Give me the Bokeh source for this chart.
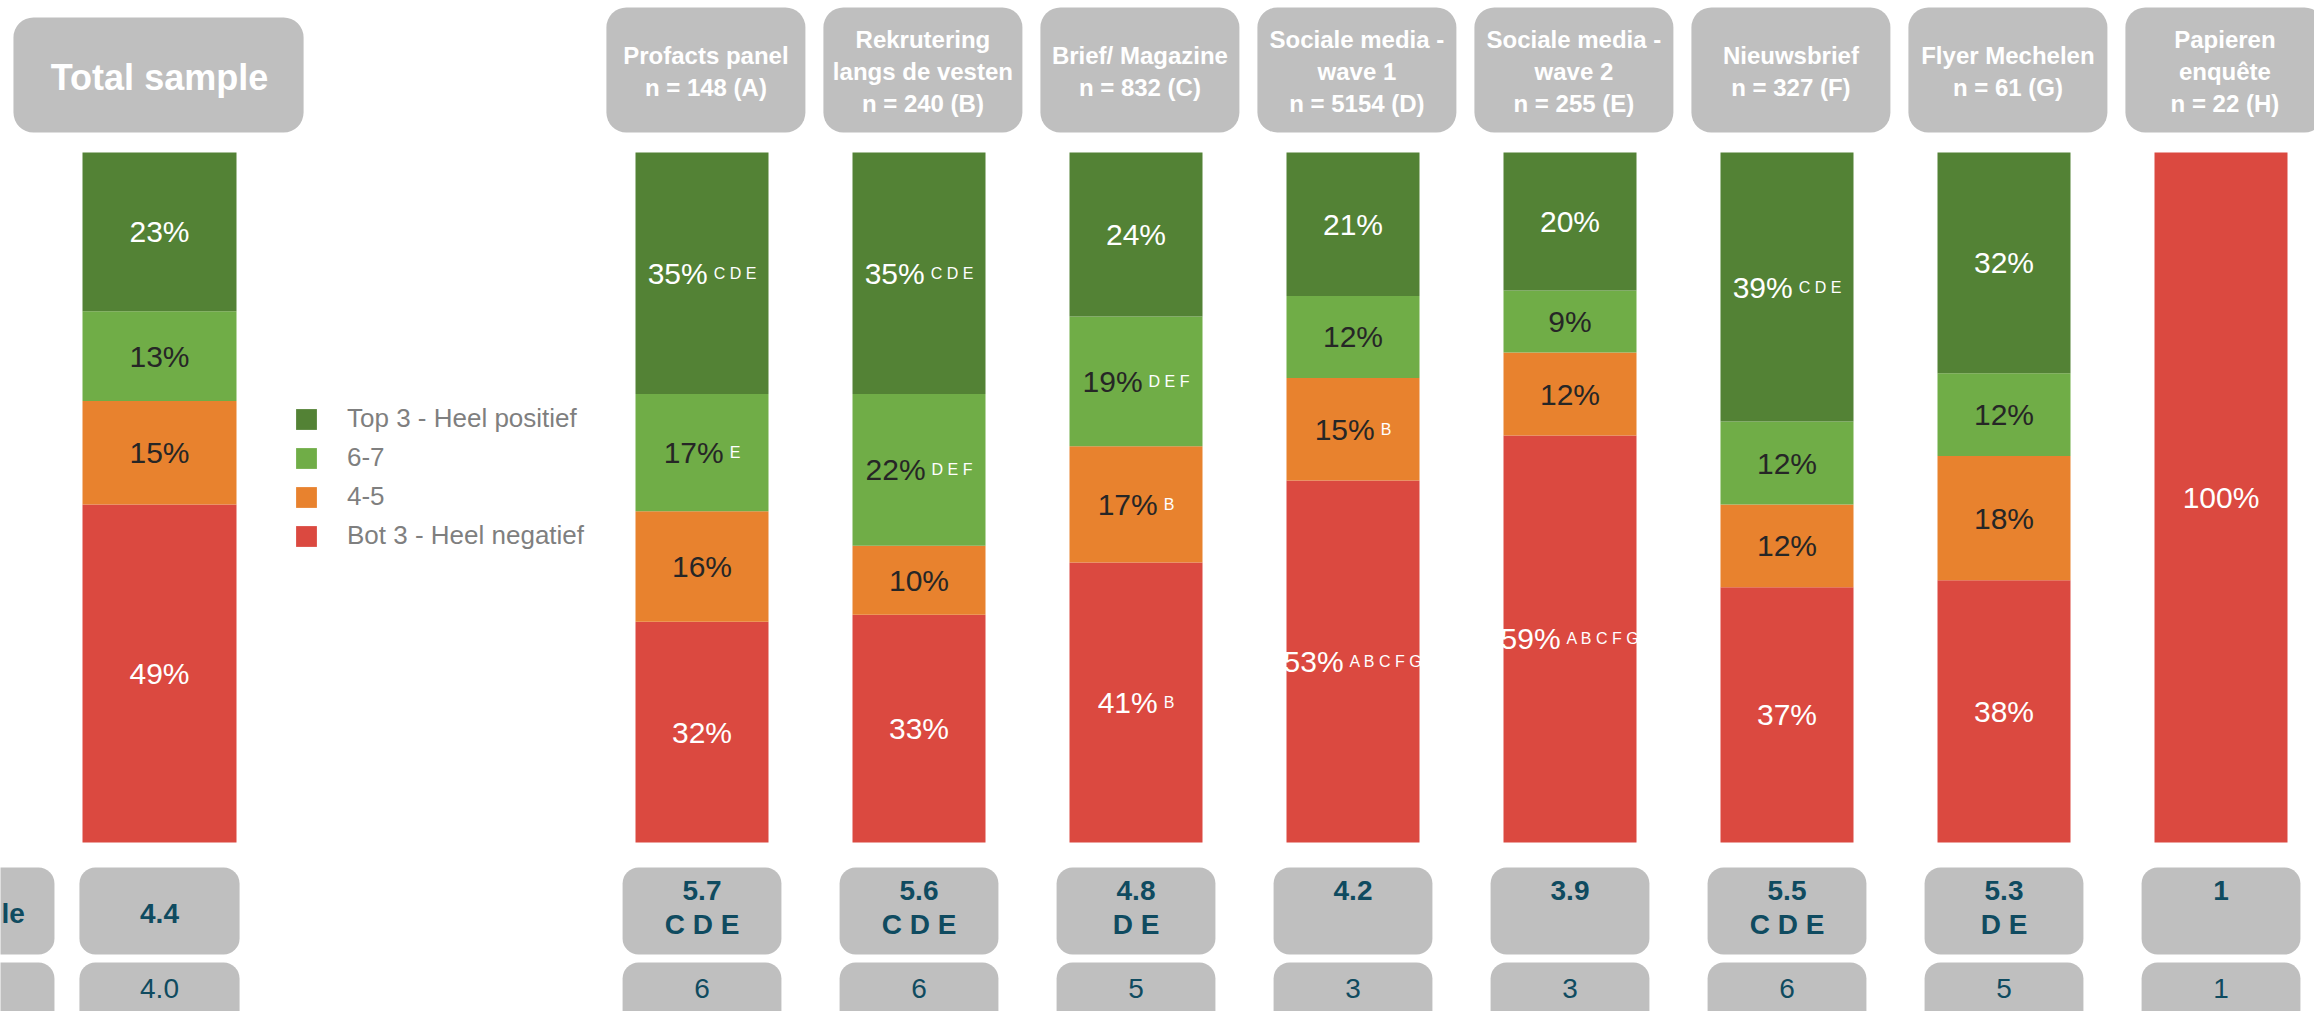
from bokeh.plotting import figure
from bokeh.models import Range1d, BoxAnnotation, ColumnDataSource, Legend, LegendItem
from bokeh.core.properties import value
from bokeh.embed import file_html
from bokeh.resources import INLINE

# ---------------- data ----------------
groups = ["Total sample",
          "Profacts panel\nn = 148 (A)",
          "Rekrutering\nlangs de vesten\nn = 240 (B)",
          "Brief/ Magazine\nn = 832 (C)",
          "Sociale media -\nwave 1\nn = 5154 (D)",
          "Sociale media -\nwave 2\nn = 255 (E)",
          "Nieuwsbrief\nn = 327 (F)",
          "Flyer Mechelen\nn = 61 (G)",
          "Papieren\nenquête\nn = 22 (H)"]
series = ["Top 3 - Heel positief", "6-7", "4-5", "Bot 3 - Heel negatief"]
top3 = [23, 35, 35, 24, 21, 20, 39, 32, 0]
mid67 = [13, 17, 22, 19, 12, 9, 12, 12, 0]
mid45 = [15, 16, 10, 17, 15, 12, 12, 18, 0]
bot3 = [49, 32, 33, 41, 53, 59, 37, 38, 100]
sig_top3 = ["", "CDE", "CDE", "", "", "", "CDE", "", ""]
sig_67 = ["", "E", "DEF", "DEF", "", "", "", "", ""]
sig_45 = ["", "", "", "B", "B", "", "", "", ""]
sig_bot3 = ["", "", "", "B", "ABCFG", "ABCFG", "", "", ""]
means = ["4.4", "5.7", "5.6", "4.8", "4.2", "3.9", "5.5", "5.3", "1"]
mean_sig = ["", "CDE", "CDE", "DE", "", "", "CDE", "DE", ""]
medians = ["4.0", "6", "6", "5", "3", "3", "6", "5", "1"]
row_label = "le"   # visible end of the cut-off row label at the left edge

# ---------------- style / layout ----------------
COL = {"top3": "#538235", "mid67": "#70AD47", "mid45": "#E8822E", "bot3": "#DB4940"}
LBL_COL = {"top3": "#FFFFFF", "mid67": "#262626", "mid45": "#262626", "bot3": "#FFFFFF"}
BOX = "#BFBFBF"
TEAL = "#0F4B60"
FONT = "Liberation Sans"

W, H = 2314, 1011
PX = 217.0                      # pixels per slot
X0 = 159.0                      # pixel x of slot 0
YB, YS = 842.0, 6.9             # pixel y of 0 %, pixels per %
n = len(groups)
xs = [0.0] + [2.5 + i for i in range(n - 1)]
widths = [154 / PX] + [133 / PX] * (n - 1)

p = figure(width=W, height=H, output_backend="svg", toolbar_location=None,
           x_range=Range1d((0 - X0) / PX, (W - X0) / PX),
           y_range=Range1d((YB - H) / YS, YB / YS),
           min_border=0, x_axis_location=None, y_axis_location=None)
p.grid.visible = False
p.outline_line_color = None
p.background_fill_color = "white"
p.extra_y_ranges = {"px": Range1d(H, 0)}
p.extra_x_ranges = {"px": Range1d(0, W)}

# ---------------- stacked bars ----------------
keys = ["bot3", "mid45", "mid67", "top3"]
vals = {"top3": top3, "mid67": mid67, "mid45": mid45, "bot3": bot3}
sigs = {"top3": sig_top3, "mid67": sig_67, "mid45": sig_45, "bot3": sig_bot3}
totals = [sum(vals[k][i] for k in keys) for i in range(n)]

src = {"x": xs, "w": widths}
cum = [0.0] * n
for k in keys:
    lo = list(cum)
    hi = [cum[i] + vals[k][i] * 100.0 / totals[i] for i in range(n)]
    src[k + "_lo"] = lo
    src[k + "_hi"] = hi
    cum = hi
source = ColumnDataSource(src)

renderers = {}
for k in keys:
    renderers[k] = p.vbar(x="x", width="w", bottom=k + "_lo", top=k + "_hi",
                          source=source, fill_color=COL[k], line_color=None)

# ---------------- segment labels ----------------
WD = {"%": 0.889, " ": 0.278, "A": 0.667, "B": 0.667, "C": 0.722, "D": 0.722,
      "E": 0.667, "F": 0.611, "G": 0.778, ".": 0.278}


def tw(s, size):
    return sum(WD.get(ch, 0.556) for ch in s) * size


MS, SS, GAP = 30, 16, 6
m = {"x": [], "y": [], "t": [], "xo": [], "c": []}
s = {"x": [], "y": [], "t": [], "xo": []}
for k in keys:
    for i in range(n):
        v = vals[k][i]
        if v <= 0:
            continue
        yc = (src[k + "_lo"][i] + src[k + "_hi"][i]) / 2
        main = f"{v}%"
        suf = " ".join(sigs[k][i])
        w1 = tw(main, MS)
        tot = w1 + (GAP + tw(suf, SS) if suf else 0)
        m["x"].append(xs[i]); m["y"].append(yc); m["t"].append(main)
        m["xo"].append(-tot / 2 + w1); m["c"].append(LBL_COL[k])
        if suf:
            s["x"].append(xs[i]); s["y"].append(yc); s["t"].append(suf)
            s["xo"].append(-tot / 2 + w1 + GAP)

p.text(x="x", y="y", text="t", x_offset="xo", y_offset=0, source=ColumnDataSource(m),
       text_color="c", text_font=value(FONT), text_font_size=f"{MS}px",
       text_align="right", text_baseline="alphabetic")
p.text(x="x", y="y", text="t", x_offset="xo", y_offset=0, source=ColumnDataSource(s),
       text_color="white", text_font=value(FONT), text_font_size=f"{SS}px",
       text_align="left", text_baseline="alphabetic")

# ---------------- header boxes ----------------
for i in range(n):
    if i == 0:
        l, r, t, b = -0.673, 0.664, 17, 132
    else:
        l, r, t, b = xs[i] - 0.4585 + 0.018, xs[i] + 0.4585 + 0.018, 7, 132
    p.add_layout(BoxAnnotation(left=l, right=r, top=t, bottom=b, y_range_name="px",
                               fill_color=BOX, fill_alpha=1, line_color=None,
                               border_radius=20, level="underlay"))

p.text(x=[xs[0]], y=[77], text=[groups[0]], y_range_name="px",
       text_color="white", text_font=value(FONT), text_font_style="bold",
       text_font_size="36px", text_align="center", text_baseline="middle")
p.text(x=[x + 0.018 for x in xs[1:]], y=[71] * (n - 1), text=groups[1:], y_range_name="px",
       text_color="white", text_font=value(FONT), text_font_style="bold",
       text_font_size="24px", text_align="center", text_baseline="middle",
       text_line_height=1.17)

# ---------------- stat boxes ----------------
for i in range(n):
    hw = 0.369 if i == 0 else 0.366
    for (t, b) in [(867, 954), (962, 1040)]:
        p.add_layout(BoxAnnotation(left=xs[i] - hw, right=xs[i] + hw, top=t, bottom=b,
                                   y_range_name="px", fill_color=BOX, fill_alpha=1,
                                   line_color=None, border_radius=16, level="underlay"))
for (t, b) in [(867, 954), (962, 1040)]:
    p.add_layout(BoxAnnotation(left=-1.5, right=-0.484, top=t, bottom=b,
                               y_range_name="px", fill_color=BOX, fill_alpha=1,
                               line_color=None, border_radius=16, level="underlay"))

p.text(x=xs, y=[913] + [890] * (n - 1), text=means, y_range_name="px",
       text_color=TEAL, text_font=value(FONT), text_font_style="bold",
       text_font_size="28px", text_align="center", text_baseline="middle")
p.text(x=xs, y=[924] * n, text=[" ".join(t) for t in mean_sig], y_range_name="px",
       text_color=TEAL, text_font=value(FONT), text_font_style="bold",
       text_font_size="28px", text_align="center", text_baseline="middle")
p.text(x=xs, y=[988] * n, text=medians, y_range_name="px",
       text_color=TEAL, text_font=value(FONT),
       text_font_size="28px", text_align="center", text_baseline="middle")
p.text(x=[1], y=[913], text=[row_label], x_range_name="px", y_range_name="px",
       text_color=TEAL, text_font=value(FONT), text_font_style="bold",
       text_font_size="28px", text_align="left", text_baseline="middle")

# ---------------- legend ----------------
order = ["top3", "mid67", "mid45", "bot3"]
legend = Legend(items=[LegendItem(label=series[j], renderers=[renderers[k]])
                       for j, k in enumerate(order)],
                location=(293, H - 551), orientation="vertical",
                glyph_width=26, glyph_height=26, label_height=26, label_standoff=28,
                spacing=8, padding=0, margin=0, border_line_alpha=0,
                background_fill_alpha=0, label_text_font=FONT,
                label_text_font_size="26px", label_text_color="#7F7F7F")
p.add_layout(legend)

open("out.html", "w").write(file_html(p, INLINE))
